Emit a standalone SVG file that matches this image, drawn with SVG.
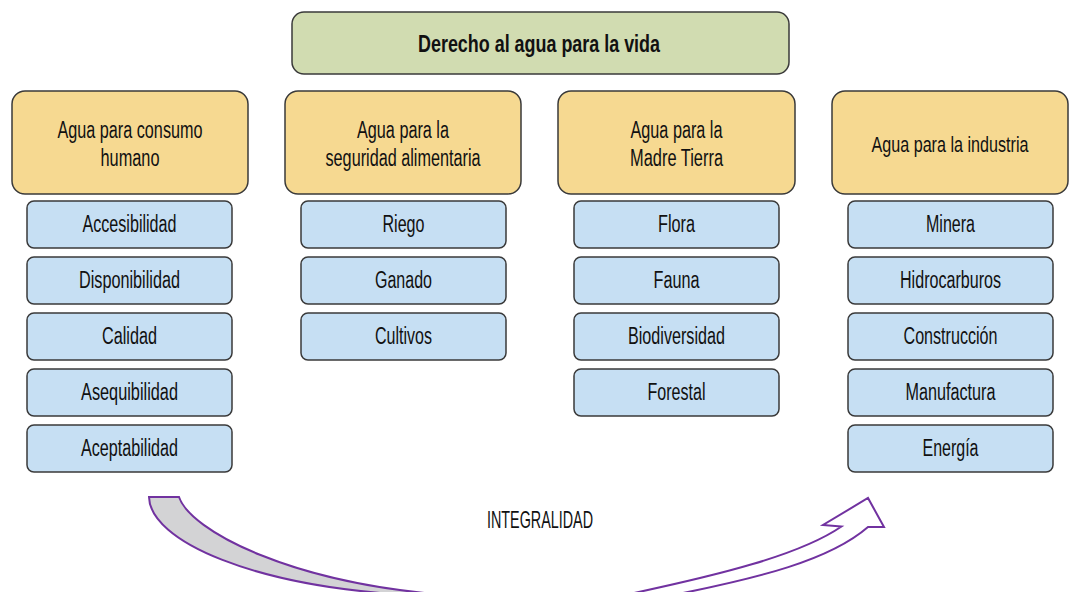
<svg xmlns="http://www.w3.org/2000/svg" width="1075" height="592" viewBox="0 0 1075 592">
<style>
text{font-family:"Liberation Sans",Arial,sans-serif;font-size:23px;fill:#111;text-anchor:middle}
.t{font-weight:bold}
.box{stroke:#3a3a3a;stroke-width:1.5}
.g{fill:#d1dcb1}
.c{fill:#f6d991}
.s{fill:#c6dff3}
.arr{stroke:#7132a0;stroke-width:2;stroke-linejoin:miter}
.big{font-size:24px}
.sm{font-size:22px}
</style>
<rect width="1075" height="592" fill="#fff"/>
<g id="title">
<rect class="box g" x="292" y="12" width="497" height="62" rx="12"/>
<text class="t" x="539" y="52" textLength="242" lengthAdjust="spacingAndGlyphs">Derecho al agua para la vida</text>
</g>
<g id="cat1">
<rect class="box c" x="12" y="91" width="236" height="103" rx="13"/>
<text x="130" y="138" textLength="145" lengthAdjust="spacingAndGlyphs">Agua para consumo</text>
<text x="130" y="166" textLength="59" lengthAdjust="spacingAndGlyphs">humano</text>
</g>
<g id="cat2">
<rect class="box c" x="285" y="91" width="236" height="103" rx="13"/>
<text x="403" y="138" textLength="92" lengthAdjust="spacingAndGlyphs">Agua para la</text>
<text x="403" y="166" textLength="155" lengthAdjust="spacingAndGlyphs">seguridad alimentaria</text>
</g>
<g id="cat3">
<rect class="box c" x="558" y="91" width="237" height="103" rx="13"/>
<text x="676.5" y="138" textLength="92" lengthAdjust="spacingAndGlyphs">Agua para la</text>
<text x="676.5" y="166" textLength="93" lengthAdjust="spacingAndGlyphs">Madre Tierra</text>
</g>
<g id="cat4">
<rect class="box c" x="832" y="91" width="236" height="103" rx="13"/>
<text class="sm" x="950" y="152" textLength="157" lengthAdjust="spacingAndGlyphs">Agua para la industria</text>
</g>
<g id="accesibilidad"><rect class="box s" x="27" y="201" width="205" height="47" rx="7"/><text x="129.5" y="232" textLength="94" lengthAdjust="spacingAndGlyphs">Accesibilidad</text></g>
<g id="disponibilidad"><rect class="box s" x="27" y="257" width="205" height="47" rx="7"/><text x="129.5" y="288" textLength="101" lengthAdjust="spacingAndGlyphs">Disponibilidad</text></g>
<g id="calidad"><rect class="box s" x="27" y="313" width="205" height="47" rx="7"/><text x="129.5" y="344" textLength="55" lengthAdjust="spacingAndGlyphs">Calidad</text></g>
<g id="asequibilidad"><rect class="box s" x="27" y="369" width="205" height="47" rx="7"/><text x="129.5" y="400" textLength="97" lengthAdjust="spacingAndGlyphs">Asequibilidad</text></g>
<g id="aceptabilidad"><rect class="box s" x="27" y="425" width="205" height="47" rx="7"/><text x="129.5" y="456" textLength="97" lengthAdjust="spacingAndGlyphs">Aceptabilidad</text></g>
<g id="riego"><rect class="box s" x="301" y="201" width="205" height="47" rx="7"/><text x="403.5" y="232" textLength="42" lengthAdjust="spacingAndGlyphs">Riego</text></g>
<g id="ganado"><rect class="box s" x="301" y="257" width="205" height="47" rx="7"/><text x="403.5" y="288" textLength="57" lengthAdjust="spacingAndGlyphs">Ganado</text></g>
<g id="cultivos"><rect class="box s" x="301" y="313" width="205" height="47" rx="7"/><text x="403.5" y="344" textLength="57" lengthAdjust="spacingAndGlyphs">Cultivos</text></g>
<g id="flora"><rect class="box s" x="574" y="201" width="205" height="47" rx="7"/><text x="676.5" y="232" textLength="37" lengthAdjust="spacingAndGlyphs">Flora</text></g>
<g id="fauna"><rect class="box s" x="574" y="257" width="205" height="47" rx="7"/><text x="676.5" y="288" textLength="46" lengthAdjust="spacingAndGlyphs">Fauna</text></g>
<g id="biodiversidad"><rect class="box s" x="574" y="313" width="205" height="47" rx="7"/><text x="676.5" y="344" textLength="97" lengthAdjust="spacingAndGlyphs">Biodiversidad</text></g>
<g id="forestal"><rect class="box s" x="574" y="369" width="205" height="47" rx="7"/><text x="676.5" y="400" textLength="58" lengthAdjust="spacingAndGlyphs">Forestal</text></g>
<g id="minera"><rect class="box s" x="848" y="201" width="205" height="47" rx="7"/><text x="950.5" y="232" textLength="49" lengthAdjust="spacingAndGlyphs">Minera</text></g>
<g id="hidrocarburos"><rect class="box s" x="848" y="257" width="205" height="47" rx="7"/><text x="950.5" y="288" textLength="101" lengthAdjust="spacingAndGlyphs">Hidrocarburos</text></g>
<g id="construccion"><rect class="box s" x="848" y="313" width="205" height="47" rx="7"/><text x="950.5" y="344" textLength="94" lengthAdjust="spacingAndGlyphs">Construcción</text></g>
<g id="manufactura"><rect class="box s" x="848" y="369" width="205" height="47" rx="7"/><text x="950.5" y="400" textLength="90" lengthAdjust="spacingAndGlyphs">Manufactura</text></g>
<g id="energia"><rect class="box s" x="848" y="425" width="205" height="47" rx="7"/><text x="950.5" y="456" textLength="56" lengthAdjust="spacingAndGlyphs">Energía</text></g>
<g id="connectors">
<path class="arr" fill="#d3d3d5" d="M149,497 L179,497 C190,530 290,585 460,596 L425,596 C250,588 150,540 149,497 Z"/>
<path class="arr" fill="#fff" d="M620,596 C720,575 800,555 841.5,526.5 L823,525 L868,498 L884,527 L868,527 C830,560 760,578 668,596 Z"/>
</g>
<g id="integralidad">
<text class="big" x="540" y="528" textLength="106" lengthAdjust="spacingAndGlyphs">INTEGRALIDAD</text>
</g>
</svg>
